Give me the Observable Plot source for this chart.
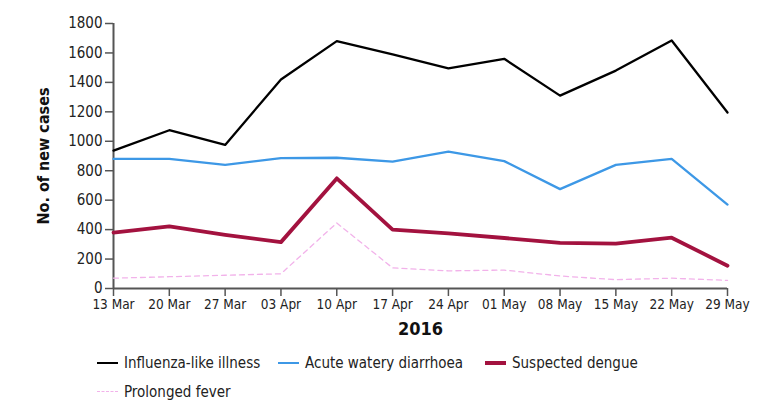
<!DOCTYPE html>
<html>
<head>
<meta charset="utf-8">
<script src="https://cdn.jsdelivr.net/npm/d3@7"></script>
<script src="https://cdn.jsdelivr.net/npm/@observablehq/plot@0.6"></script>
<style>
  body { margin: 0; background: #fff; font-family: "DejaVu Sans Condensed", "DejaVu Sans", sans-serif; font-stretch: condensed; }
  #chart { position: relative; width: 771px; }
  #chart svg { font-stretch: condensed; }
  .legend { display: flex; flex-wrap: wrap; width: 600px; padding-left: 97px; margin-top: 8px; font-size: 15px; color: #222; }
  .item { display: flex; align-items: center; height: 29px; }
  .sw { display: inline-block; width: 21px; margin-right: 6px; }
</style>
</head>
<body>
<div id="chart"></div>
<script>
const weeks = ["2016-03-13","2016-03-20","2016-03-27","2016-04-03","2016-04-10","2016-04-17","2016-04-24","2016-05-01","2016-05-08","2016-05-15","2016-05-22","2016-05-29"];
const influenzaLike = [937, 1075, 975, 1420, 1680, 1590, 1495, 1560, 1310, 1480, 1685, 1195];
const acuteWatery = [880, 880, 840, 885, 888, 862, 930, 865, 675, 840, 880, 570];
const suspectedDengue = [380, 422, 365, 315, 748, 400, 375, 343, 310, 305, 345, 155];
const prolongedFever = [70, 80, 90, 100, 445, 140, 120, 125, 85, 60, 70, 55];
const yTicks = [0, 200, 400, 600, 800, 1000, 1200, 1400, 1600, 1800];

const dates = weeks.map(d => new Date(d + "T00:00:00Z"));
const rows = (vals) => dates.map((d, i) => ({date: d, value: vals[i]}));

const axisColor = "#555";
const plot = Plot.plot({
  width: 771,
  height: 340,
  marginLeft: 113,
  marginRight: 44,
  marginTop: 23,
  marginBottom: 52,
  style: {fontFamily: "'DejaVu Sans Condensed', 'DejaVu Sans', sans-serif", fontSize: "14px", color: "#222", background: "#fff"},
  x: {type: "utc", domain: [dates[0], dates[dates.length - 1]]},
  y: {domain: [0, 1800]},
  marks: [
    Plot.axisY({ticks: yTicks, tickFormat: d => String(d), tickSize: 8, tickPadding: 3, stroke: axisColor, strokeWidth: 1.5,
      label: "No. of new cases", labelAnchor: "center", labelOffset: 76, fontSize: 15}),
    Plot.axisX({ticks: dates, tickFormat: d3.utcFormat("%d %b"), tickSize: 8, tickPadding: 3, stroke: axisColor, strokeWidth: 1.5,
      label: "2016", labelAnchor: "center", labelOffset: 46, fontSize: 13.5}),
    Plot.ruleX([dates[0]], {stroke: axisColor, strokeWidth: 2}),
    Plot.ruleY([0], {stroke: axisColor, strokeWidth: 2}),
    Plot.lineY(rows(prolongedFever), {x: "date", y: "value", stroke: "#f2b2ea", strokeWidth: 1.3, strokeDasharray: "5,4"}),
    Plot.lineY(rows(suspectedDengue), {x: "date", y: "value", stroke: "#a3123f", strokeWidth: 3.8}),
    Plot.lineY(rows(acuteWatery), {x: "date", y: "value", stroke: "#3d98e6", strokeWidth: 2.3}),
    Plot.lineY(rows(influenzaLike), {x: "date", y: "value", stroke: "#000", strokeWidth: 2.3})
  ]
});
document.getElementById("chart").appendChild(plot);
// axis labels: bold, no arrows
const fix = (sel, txt, size) => plot.querySelectorAll(sel).forEach(t => {
  t.textContent = txt;
  t.setAttribute("font-weight", "bold");
  t.setAttribute("font-size", size);
  t.setAttribute("fill", "#111");
});
fix("g[aria-label='y-axis label'] text", "No. of new cases", "16px");
fix("g[aria-label='x-axis label'] text", "2016", "18px");

const legendItems = [
  {name: "Influenza-like illness", color: "#000", w: 2.5, dash: false, width: 181},
  {name: "Acute watery diarrhoea", color: "#3d98e6", w: 2.5, dash: false, width: 207},
  {name: "Suspected dengue", color: "#a3123f", w: 4, dash: false, width: 180},
  {name: "Prolonged fever", color: "#f2b2ea", w: 1.3, dash: true, width: 181}
];
const leg = document.createElement("div");
leg.className = "legend";
legendItems.forEach(it => {
  const d = document.createElement("div");
  d.className = "item";
  d.style.width = it.width + "px";
  const s = document.createElement("span");
  s.className = "sw";
  s.style.borderTop = it.w + "px " + (it.dash ? "dashed " : "solid ") + it.color;
  d.appendChild(s);
  const t = document.createElement("span");
  t.textContent = it.name;
  d.appendChild(t);
  leg.appendChild(d);
});
document.getElementById("chart").appendChild(leg);
</script>
</body>
</html>
